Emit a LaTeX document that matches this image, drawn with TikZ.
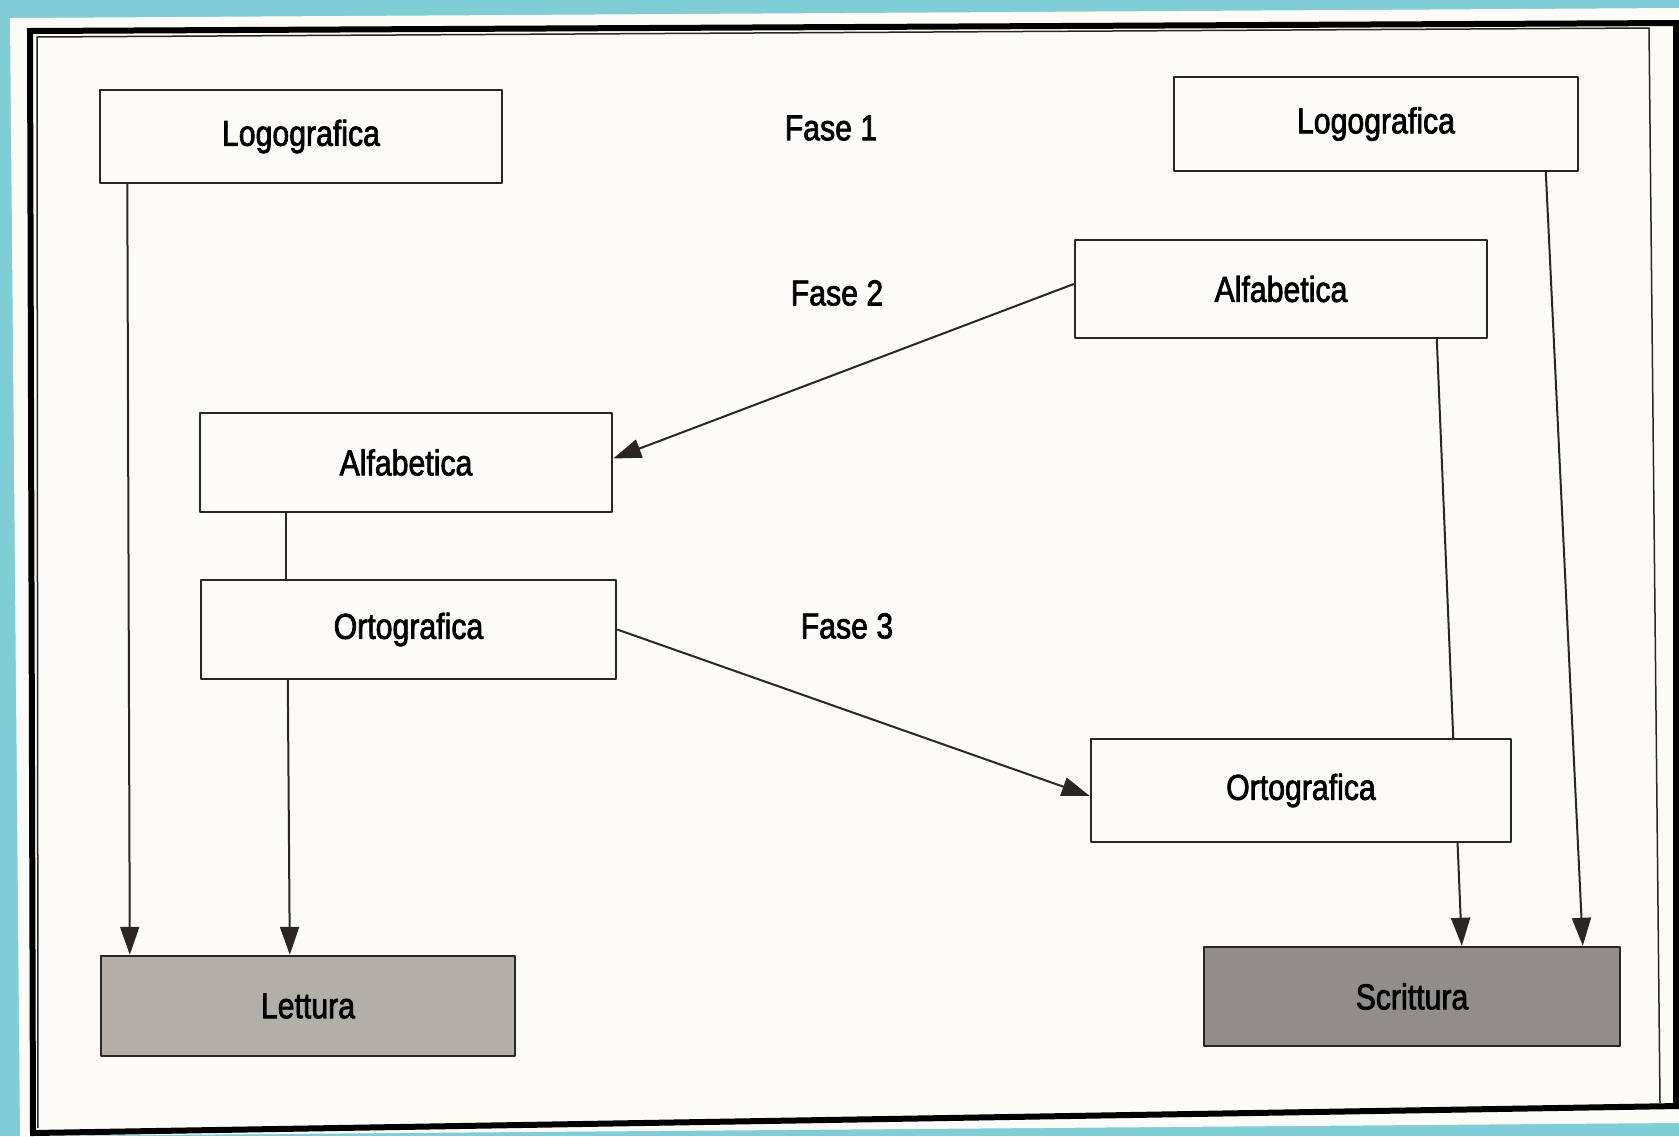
\documentclass[tikz,border=0pt]{standalone}
\usepackage{fontspec}
\setmainfont[FakeStretch=0.84,FakeBold=2]{Liberation Sans}
\usetikzlibrary{arrows.meta}
\definecolor{scanteal}{HTML}{7FCED6}
\definecolor{paper}{HTML}{FCFBF8}
\definecolor{ink}{HTML}{2B2622}
\definecolor{lettgray}{HTML}{B2AEA8}
\definecolor{scrgray}{HTML}{918D89}
\pgfdeclarelayer{bg}
\pgfsetlayers{bg,main}

\begin{document}
\begin{tikzpicture}[line cap=round,line join=round,x=1pt,y=-1pt,
    >={Triangle[length=28pt,width=19pt]},
    stadio/.style={draw=ink,line width=2.4pt,fill=paper,inner sep=0pt,
      minimum width=410pt,minimum height=97pt,font=\fontsize{36}{42}\selectfont},
    esito/.style={stadio,fill=#1},
    fase/.style={inner sep=0pt,font=\fontsize{36}{42}\selectfont},
    freccia/.style={draw=ink,line width=2pt}]
    \useasboundingbox (0,0) rectangle (1679,1136);
        \node[stadio,minimum width=402pt,minimum height=93pt] (logoL) at (301,136.5) {Logografica};
        \node[stadio,minimum width=404pt,minimum height=94pt] (logoR) at (1376,124) {Logografica};
        \node[stadio,minimum width=412pt,minimum height=98pt] (alfaR) at (1281,289) {Alfabetica};
        \node[stadio,minimum width=412pt,minimum height=99pt] (alfaL) at (406,462.5) {Alfabetica};
        \node[stadio,minimum width=415pt,minimum height=99pt] (ortoL) at (408.5,629.5) {Ortografica};
        \node[stadio,minimum width=420pt,minimum height=103pt] (ortoR) at (1301,790.5) {Ortografica};
        \node[esito=lettgray,minimum width=414pt,minimum height=100pt] (lettura) at (308,1006) {Lettura};
        \node[esito=scrgray,minimum width=416pt,minimum height=99pt] (scrittura) at (1412,996.5) {Scrittura};
        \node[fase] (fase1) at (831,128) {Fase 1};
        \node[fase] (fase2) at (837,293) {Fase 2};
        \node[fase] (fase3) at (847,626) {Fase 3};
    \begin{pgfonlayer}{bg}
        \fill[scanteal] (0,0) rectangle (1679,1136);
        \fill[paper] (10,18) -- (1679,8) -- (1679,1123) -- (20,1136) -- cycle;
        \draw[black,line width=6pt,line cap=butt] (1679,23) -- (30,31) -- (33,1133) -- (1679,1106);
        \draw[black,line width=6pt,line cap=butt] (1676,23) -- (1676,1106);
        \draw[ink,line width=1.5pt] (38,1128) -- (37,37) -- (1649,28) -- (1660,1103);
        \draw[freccia,->] ([xshift=28.5pt]logoL.south west) -- ([xshift=30pt]lettura.north west);
        \draw[freccia] ([xshift=87pt]alfaL.south west) -- ([xshift=86pt]ortoL.north west);
        \draw[freccia,->] ([xshift=88pt]ortoL.south west) -- ([xshift=190pt]lettura.north west);
        \draw[freccia,->] ([yshift=5pt]alfaR.west) -- ([yshift=4pt]alfaL.east);
        \draw[freccia,->] (ortoL.east) -- ([yshift=-5.5pt]ortoR.west);
        \draw[freccia,->] ([xshift=363pt]alfaR.south west) -- ([xshift=259pt]scrittura.north west);
        \draw[freccia,->] ([xshift=373pt]logoR.south west) -- ([xshift=380pt]scrittura.north west);
    \end{pgfonlayer}
\end{tikzpicture}
\end{document}
